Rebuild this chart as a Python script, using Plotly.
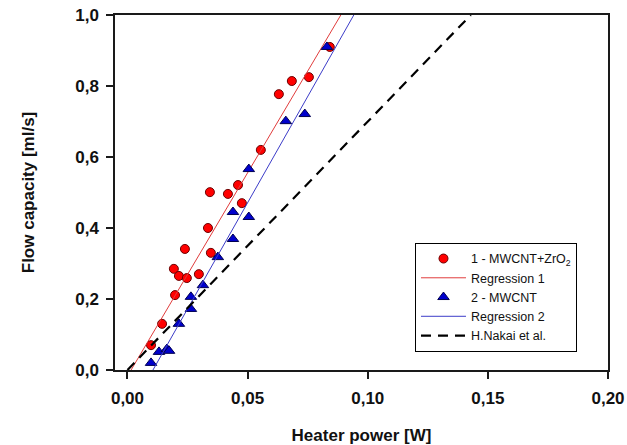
import plotly.graph_objects as go

# 1 - MWCNT+ZrO2 (red circles)
x_red = [0.0098, 0.0144, 0.0198, 0.0193, 0.0214, 0.0247, 0.0239, 0.0297, 0.0347, 0.0335,
         0.0343, 0.0418, 0.0460, 0.0476, 0.0555, 0.0630, 0.0684, 0.0755, 0.0842]
y_red = [0.070, 0.130, 0.211, 0.285, 0.265, 0.259, 0.341, 0.270, 0.330, 0.400,
         0.501, 0.496, 0.521, 0.470, 0.620, 0.777, 0.814, 0.825, 0.910]

# 2 - MWCNT (blue triangles)
x_blue = [0.0098, 0.0131, 0.0164, 0.0173, 0.0214, 0.0264, 0.0264, 0.0314, 0.0376, 0.0439,
          0.0439, 0.0505, 0.0505, 0.0659, 0.0738, 0.0830]
y_blue = [0.020, 0.051, 0.059, 0.054, 0.130, 0.172, 0.206, 0.239, 0.318, 0.369,
          0.445, 0.431, 0.566, 0.701, 0.721, 0.910]

# regression lines / literature line (end points)
x_reg1 = [0.0015, 0.0888]
y_reg1 = [0.0, 1.0]
x_reg2 = [0.0106, 0.0942]
y_reg2 = [0.0, 1.0]
x_nakai = [0.0, 0.1429]
y_nakai = [0.0, 1.0]

x_ticks = [0.0, 0.05, 0.10, 0.15, 0.20]
x_ticklabels = ["0,00", "0,05", "0,10", "0,15", "0,20"]
y_ticks = [0.0, 0.2, 0.4, 0.6, 0.8, 1.0]
y_ticklabels = ["0,0", "0,2", "0,4", "0,6", "0,8", "1,0"]

fig = go.Figure()

fig.add_trace(go.Scatter(x=x_red, y=y_red, mode="markers", name="1 - MWCNT+ZrO<sub>2</sub>",
                         marker=dict(symbol="circle", size=9, color="#ff0000",
                                     line=dict(color="#6b0000", width=1))))
fig.add_trace(go.Scatter(x=x_reg1, y=y_reg1, mode="lines", name="Regression 1",
                         line=dict(color="#e03c3c", width=1)))
fig.add_trace(go.Scatter(x=x_blue, y=y_blue, mode="markers", name="2 - MWCNT",
                         marker=dict(symbol="triangle-up", size=10, color="#0000cc",
                                     line=dict(color="#000050", width=1))))
fig.add_trace(go.Scatter(x=x_reg2, y=y_reg2, mode="lines", name="Regression 2",
                         line=dict(color="#3c3cc8", width=1)))
fig.add_trace(go.Scatter(x=x_nakai, y=y_nakai, mode="lines", name="H.Nakai et al.",
                         line=dict(color="black", width=2.2, dash="10px,7px")))

axis_font = dict(family="Arial, Liberation Sans, sans-serif", size=17, color="#111")
tick_font = dict(family="Arial, Liberation Sans, sans-serif", size=17, color="#111",
                 weight="bold")

fig.update_layout(
    width=627, height=445,
    margin=dict(l=115, r=19, t=15, b=75),
    plot_bgcolor="white", paper_bgcolor="white",
    font=dict(family="Arial, Liberation Sans, sans-serif"),
    showlegend=True,
    legend=dict(x=0.6085, y=0.358, xanchor="left", yanchor="top",
                bgcolor="white", bordercolor="black", borderwidth=1,
                font=dict(size=12.5, color="#111"),
                itemwidth=45, entrywidth=150, tracegroupgap=0),
)

fig.update_xaxes(range=[-0.0052, 0.2], tickvals=x_ticks,
                 ticktext=["<b>" + t + "</b>" for t in x_ticklabels],
                 showgrid=False, zeroline=False, showline=True, linecolor="#1a1a1a",
                 linewidth=1.5, mirror=True, ticks="outside", ticklen=7, tickwidth=1.5,
                 tickcolor="#1a1a1a", tickfont=tick_font, automargin=False,
                 ticklabelstandoff=5,
                 title=dict(text="<b>Heater power [W]</b>", font=axis_font, standoff=23))
fig.update_yaxes(range=[0, 1.0], tickvals=y_ticks,
                 ticktext=["<b>" + t + "</b>" for t in y_ticklabels],
                 showgrid=False, zeroline=False, showline=True, linecolor="#1a1a1a",
                 linewidth=1.5, mirror=True, ticks="outside", ticklen=7, tickwidth=1.5,
                 tickcolor="#1a1a1a", tickfont=tick_font, automargin=False,
                 ticklabelstandoff=4,
                 title=dict(text="<b>Flow capacity [ml/s]</b>", font=axis_font, standoff=36))

# page body has a default 8px margin; drop it so the figure sits at the window corner
fig.write_html("out.html", config={"displayModeBar": False},
               post_script="document.body.style.margin='0';")
